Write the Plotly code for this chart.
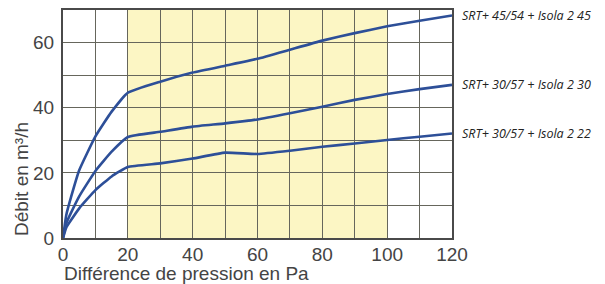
import plotly.graph_objects as go

pressure = [0, 1, 2.5, 5, 10, 15, 20, 30, 40, 50, 60, 70, 80, 90, 100, 110, 120]
flow_45 = [0, 7, 12.6, 20.8, 31.2, 38.8, 44.6, 48.0, 50.8, 52.9, 55.0, 57.8, 60.6, 62.9, 65.0, 66.7, 68.3]
flow_30 = [0, 4.5, 7.8, 12.8, 20.6, 26.5, 31.0, 32.6, 34.2, 35.2, 36.4, 38.3, 40.3, 42.4, 44.2, 45.7, 47.0]
flow_22 = [0, 3.2, 5.5, 9.1, 14.7, 18.9, 21.8, 22.9, 24.4, 26.2, 25.8, 26.8, 28.0, 29.0, 30.1, 31.1, 32.1]
series_names = ["SRT+ 45/54 + Isola 2 45", "SRT+ 30/57 + Isola 2 30", "SRT+ 30/57 + Isola 2 22"]
x_ticks = [0, 20, 40, 60, 80, 100, 120]
y_ticks = [0, 20, 40, 60]
zone = [20, 100]
x_title = "Différence de pression en Pa"
y_title = "Débit en m³/h"

LINE = "#2d4f98"
GRID = "#66665c"
TXT = "#444444"
FS = 19

fig = go.Figure()
for name, ys in zip(series_names, [flow_45, flow_30, flow_22]):
    fig.add_trace(go.Scatter(x=pressure, y=ys, mode="lines", name=name,
                             line=dict(color=LINE, width=2.6, shape="spline", smoothing=0.4)))
    fig.add_annotation(x=1, xref="paper", y=ys[-1], yref="y", text=name, showarrow=False,
                       xanchor="left", yanchor="middle", xshift=8, yshift=0,
                       font=dict(family="Open Sans", size=12.5, color="#222", style="italic"))

fig.add_shape(type="rect", x0=zone[0], x1=zone[1], y0=0, y1=70, xref="x", yref="y",
              fillcolor="#fcf6c4", line_width=0, layer="below")

fig.add_annotation(x=0, xref="paper", xshift=-1, y=0, yref="paper", yshift=-35, text=x_title,
                   showarrow=False, xanchor="left", yanchor="middle",
                   font=dict(family="Liberation Sans, Arial", size=FS, color=TXT))
fig.add_annotation(x=0, xref="paper", xshift=-42, y=0, yref="paper", text=y_title,
                   showarrow=False, xanchor="center", yanchor="bottom", textangle=-90,
                   font=dict(family="Liberation Sans, Arial", size=FS, color=TXT))

fig.update_layout(
    width=605, height=284, margin=dict(l=63, r=153, t=10, b=46, autoexpand=False),
    plot_bgcolor="white", paper_bgcolor="white", showlegend=False,
    font=dict(family="Liberation Sans, Arial", size=FS, color=TXT),
)
fig.update_xaxes(range=[0, 120], tickvals=x_ticks, showgrid=True, gridcolor=GRID, gridwidth=1,
                 minor=dict(dtick=10, showgrid=True, gridcolor=GRID, gridwidth=1),
                 showline=True, linecolor="#4a4a4a", linewidth=2, mirror=True, zeroline=False,
                 ticks="", ticklabelstandoff=-2, automargin=False)
fig.update_yaxes(range=[0, 70], tickvals=y_ticks, showgrid=True, gridcolor=GRID, gridwidth=1,
                 minor=dict(dtick=10, showgrid=True, gridcolor=GRID, gridwidth=1),
                 showline=True, linecolor="#4a4a4a", linewidth=2, mirror=True, zeroline=False,
                 ticks="", ticklabelstandoff=3, automargin=False)
fig.write_html("out.html", config={"displayModeBar": False},
               post_script="document.body.style.margin='0';")
